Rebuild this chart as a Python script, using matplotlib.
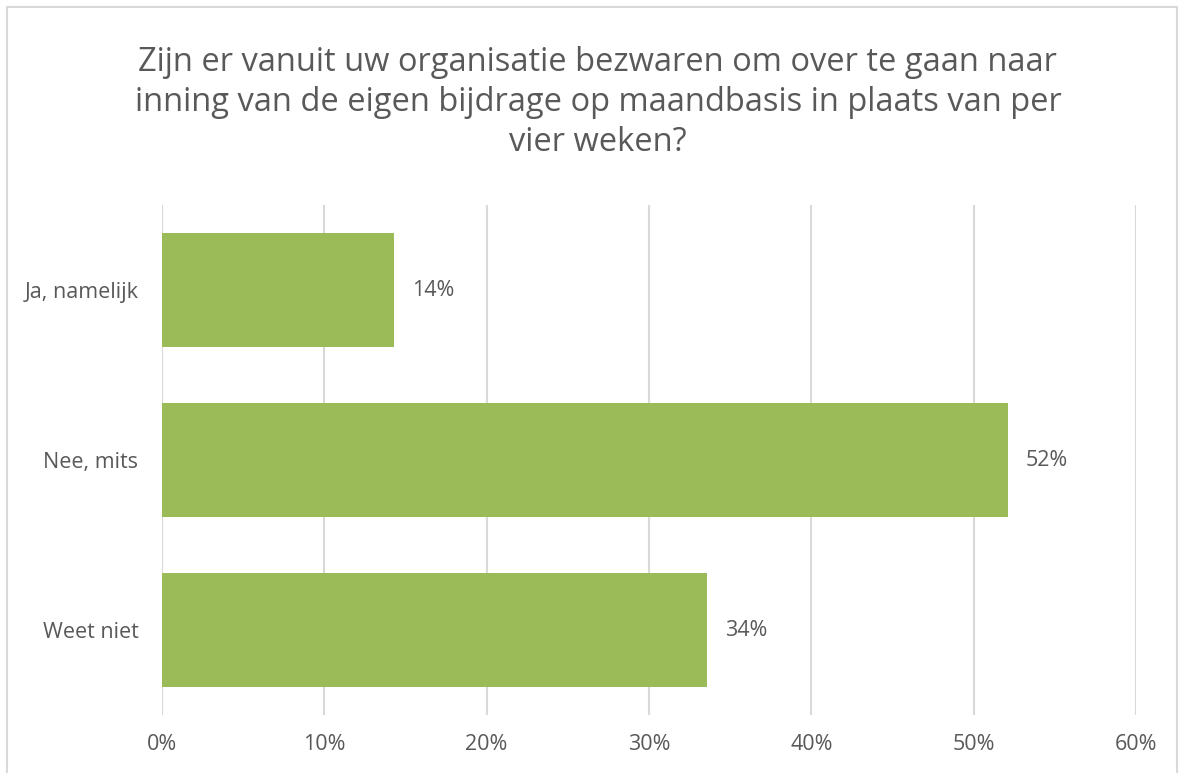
import matplotlib.pyplot as plt
from matplotlib.patches import Rectangle
from matplotlib.ticker import PercentFormatter

categories = ["Ja, namelijk", "Nee, mits", "Weet niet"]
values = [0.143, 0.521, 0.336]
labels = ["14%", "52%", "34%"]
title = ("Zijn er vanuit uw organisatie bezwaren om over te gaan naar\n"
         "inning van de eigen bijdrage op maandbasis in plaats van per\n"
         "vier weken?")

text_color = "#595959"
bar_color = "#9BBB59"
grid_color = "#D9D9D9"

plt.rcParams["font.family"] = ["Open Sans", "DejaVu Sans"]

fig = plt.figure(figsize=(11.84, 7.73), dpi=100)
ax = fig.add_axes([0.1368, 0.075, 0.8227, 0.6598])

y = list(range(len(categories)))
bars = ax.barh(y, values, height=0.665, color=bar_color, zorder=3)
for b, lab in zip(bars, labels):
    ax.annotate(lab, (b.get_width(), b.get_y() + b.get_height() / 2),
                xytext=(13, 0), textcoords="offset points",
                va="center", ha="left", fontsize=15.5, color=text_color)

ax.set_xlim(0, 0.6)
ax.set_ylim(2.5, -0.5)
ax.set_yticks(y)
ax.set_yticklabels(categories)
ax.set_xticks([0, 0.1, 0.2, 0.3, 0.4, 0.5, 0.6])
ax.xaxis.set_major_formatter(PercentFormatter(1.0, decimals=0))
ax.tick_params(axis="both", length=0, labelsize=15.5, labelcolor=text_color)
ax.tick_params(axis="y", pad=17)
ax.tick_params(axis="x", pad=14)
ax.grid(axis="x", color=grid_color, linewidth=1.5, zorder=0)
for s in ax.spines.values():
    s.set_visible(False)

fig.text(0.505, 0.867, title, ha="center", va="center", fontsize=23.5,
         color=text_color, linespacing=1.28)

fig.patches.append(Rectangle((0.0059, -0.02), 0.988, 1.011,
                             transform=fig.transFigure, fill=False,
                             edgecolor=grid_color, linewidth=1.5))

plt.savefig("out.png", dpi=100)
